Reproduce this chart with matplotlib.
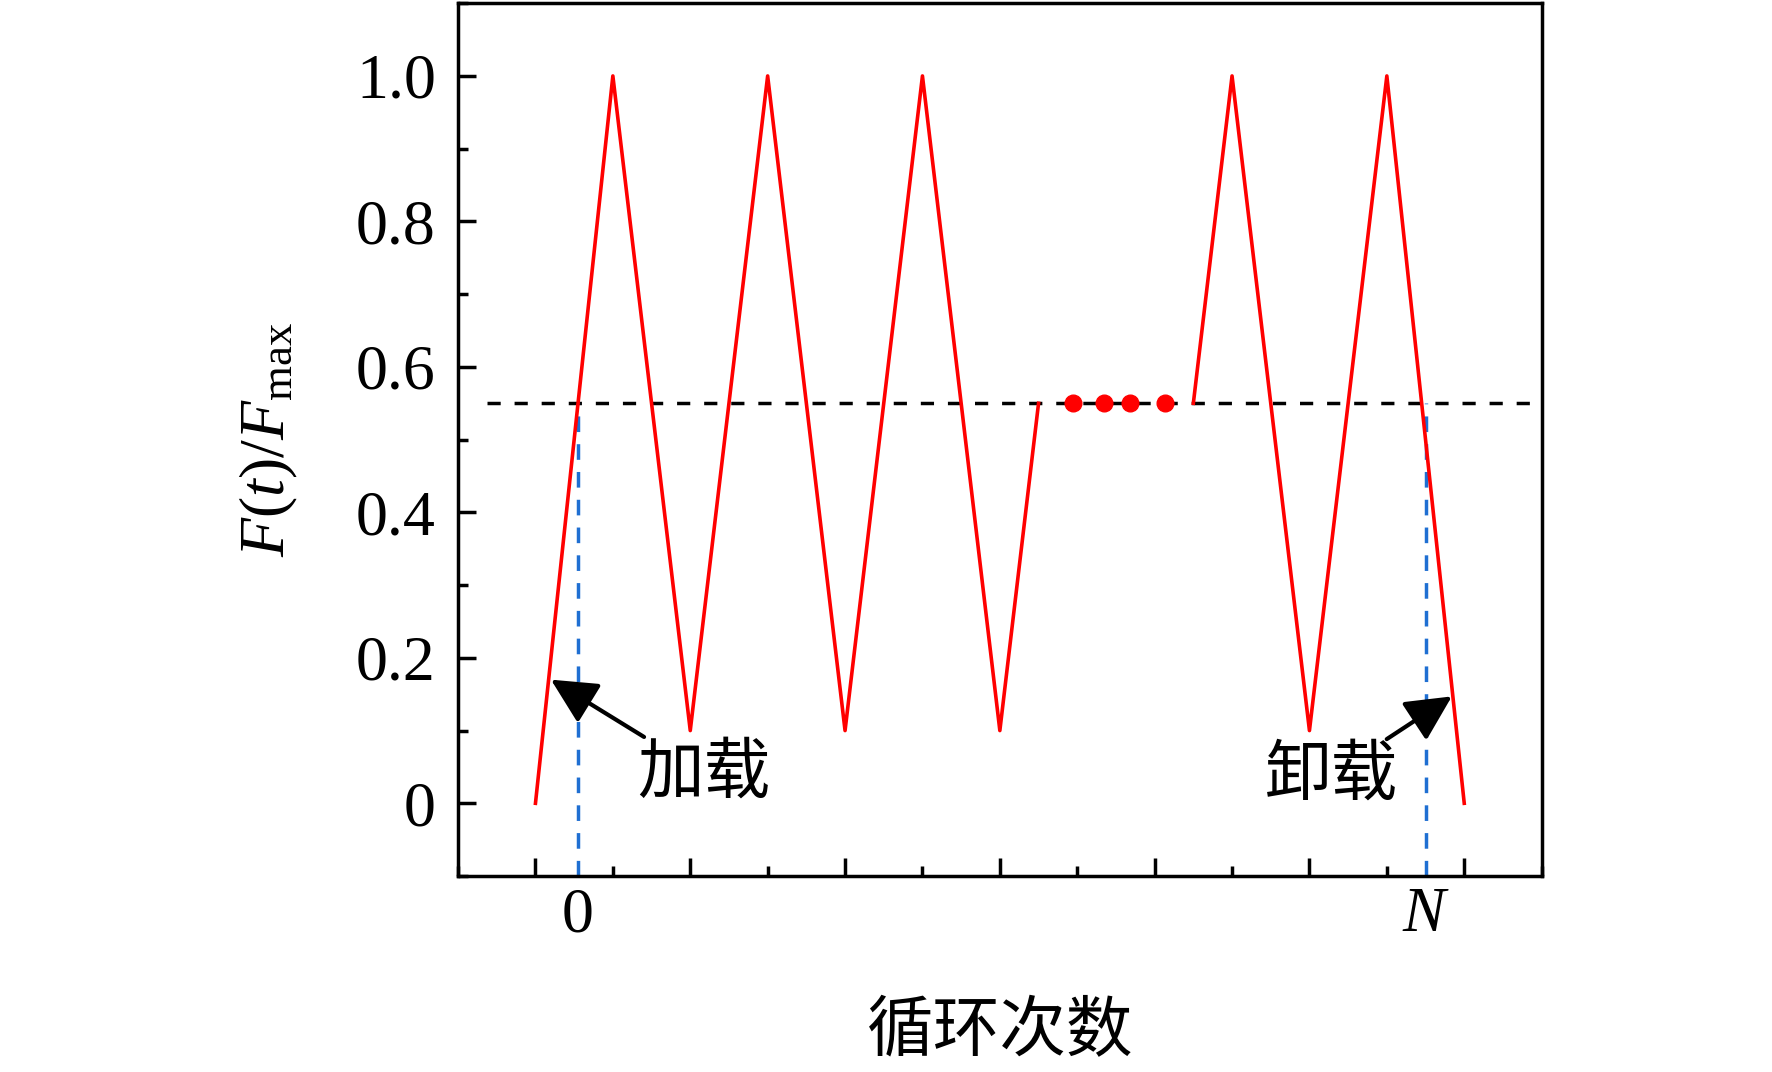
import matplotlib
matplotlib.use("Agg")
from matplotlib import pyplot as plt
from matplotlib.ticker import MultipleLocator
import numpy as np

# ----------------------------------------
# Data (cycle position, normalised load)
# ----------------------------------------
t_first = [0, 0.5, 1, 1.5, 2, 2.5, 3, 3.25]
f_first = [0, 1.0, 0.1, 1.0, 0.1, 1.0, 0.1, 0.55]
t_last = [4.25, 4.5, 5, 5.5, 6]
f_last = [0.55, 1.0, 0.1, 1.0, 0]
t_dots = [3.47, 3.67, 3.84, 4.07]
f_dots = [0.55, 0.55, 0.55, 0.55]
level = 0.55
t_start_cross = 0.275
t_end_cross = 5.75
ytick_vals = [0, 0.2, 0.4, 0.6, 0.8, 1.0]
ytick_labels = ["0", "0.2", "0.4", "0.6", "0.8", "1.0"]

red = "#FF0000"
blue = "#1F6FD2"

plt.rcParams["font.family"] = ["Liberation Serif", "Noto Sans CJK SC"]
plt.rcParams["mathtext.fontset"] = "custom"
plt.rcParams["mathtext.rm"] = "Liberation Serif"
plt.rcParams["mathtext.it"] = "Liberation Serif:italic"

fig = plt.figure(figsize=(17.72, 10.72), dpi=100)
ax = fig.add_axes([0.2585, 0.1828, 0.6115, 0.8142])

# ----------------------------------------
# Curves
# ----------------------------------------
ax.plot(t_first, f_first, color=red, lw=2.6, zorder=3)
ax.plot(t_last, f_last, color=red, lw=2.6, zorder=3)
ax.plot([-0.31, 6.5], [level, level], color="black", lw=2.5,
        dashes=(3.8, 4), zorder=2)
ax.plot(t_dots, f_dots, "o", color=red, ms=12, zorder=4)
for tc in (t_start_cross, t_end_cross):
    ax.plot([tc, tc], [-0.1, level], color=blue, lw=2.5,
            dashes=(4.5, 3.5), zorder=2)

# ----------------------------------------
# Axes limits and ticks
# ----------------------------------------
ax.set_xlim(-0.5, 6.5)
ax.set_ylim(-0.1, 1.1)
ax.set_xticks(np.arange(0, 7, 1))
ax.xaxis.set_minor_locator(MultipleLocator(0.5))
ax.set_xticklabels([])
ax.set_yticks(ytick_vals)
ax.set_yticklabels(ytick_labels)
ax.yaxis.set_minor_locator(MultipleLocator(0.1))
ax.tick_params(which="both", direction="in", width=2.5, top=False,
               right=False)
ax.tick_params(which="major", length=13, labelsize=46, pad=16)
ax.tick_params(which="minor", length=7)
for sp in ax.spines.values():
    sp.set_linewidth(2.5)

ax.text(t_start_cross, -0.155, "0", fontsize=46, ha="center", va="center")
ax.text(t_end_cross, -0.155, "$\\mathit{N}$", fontsize=46, ha="center",
        va="center")

ax.set_ylabel("$\\mathit{F}(\\mathit{t})/\\mathit{F}_{\\mathrm{max}}$",
              fontsize=46)
ax.yaxis.set_label_coords(-0.146, 0.5)
ax.set_xlabel("循环次数", fontsize=48, family="Noto Sans CJK SC")
ax.xaxis.set_label_coords(0.5, -0.14)

# ----------------------------------------
# Annotations
# ----------------------------------------
arrow = dict(arrowstyle="-|>,head_length=0.7,head_width=0.35",
             color="black", lw=3, mutation_scale=40, shrinkA=0, shrinkB=0)
ax.annotate("加载", xy=(0.10, 0.17), xytext=(1.085, 0.041),
            fontsize=48, family="Noto Sans CJK SC", ha="center",
            va="center", arrowprops=arrow)
ax.annotate("卸载", xy=(5.92, 0.147), xytext=(5.14, 0.038),
            fontsize=48, family="Noto Sans CJK SC", ha="center",
            va="center", arrowprops=arrow)

plt.savefig("out.png", dpi=100)
